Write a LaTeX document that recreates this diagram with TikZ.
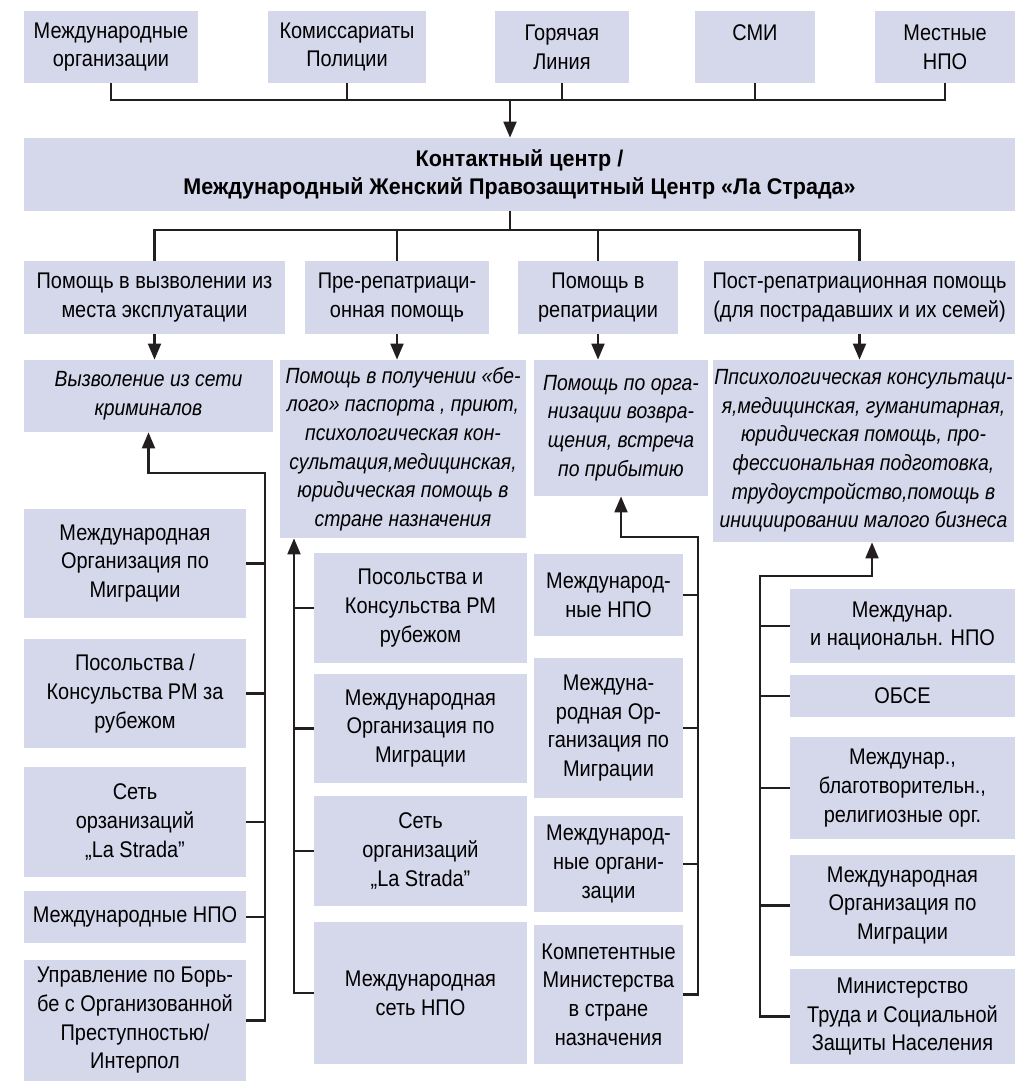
\documentclass[tikz,border=0pt]{standalone}
\usepackage{fontspec}
\setmainfont{Liberation Sans}[FakeStretch=0.88]
\newfontfamily\titlefont{Liberation Sans}[FakeStretch=0.95]
\usetikzlibrary{arrows.meta}
\definecolor{lav}{RGB}{213,215,235}
\definecolor{ink}{RGB}{35,31,32}
\newdimen\px \px=0.75pt

\begin{document}
\begin{tikzpicture}[x=0.75pt, y=-0.75pt,
		box/.style 2 args={fill=lav, inner sep=0pt, align=center, minimum width=#1\px, minimum height=#2\px, font=\fontsize{17}{21.5}\selectfont},
		it/.style={font=\fontsize{16.5}{21.5}\selectfont\itshape},
		line/.style={draw=ink, line width=2pt},
		>={Triangle[length=12pt,width=9.5pt]}]
		\useasboundingbox (0,0) rectangle (1031,1081);

		\node [box={174}{72}] (inter) at (111,47) {Международные\\организации};
		\node [box={158}{72}] (police) at (347,47) {Комиссариаты\\Полиции};
		\node [box={134}{72}] (hotline) at (562,47) {Горячая\\Линия};
		\node [box={120}{72}] (media) at (755,47) {СМИ\\\phantom{Н}};
		\node [box={140}{72}] (ngo) at (945,47) {Местные\\НПО};

		\node [box={991}{73}, font=\fontsize{17}{21.5}\titlefont\bfseries] (centre) at (519.5,174.5)
			{Контактный центр /\\Международный Женский Правозащитный Центр «Ла Страда»};

		\node [box={261}{73}] (resc) at (154.5,297.5) {Помощь в вызволении из\\места эксплуатации};
		\node [box={184}{73}] (prer) at (397,297.5) {Пре-репатриаци-\\онная помощь};
		\node [box={160}{73}] (repa) at (598,297.5) {Помощь в\\репатриации};
		\node [box={311}{73}] (post) at (859.5,297.5) {Пост-репатриационная помощь\\(для пострадавших и их семей)};

		\node [box={249}{72}, it] (rescw) at (148.5,396) {Вызволение из сети\\криминалов};
		\node [box={246}{178}, it] (prerw) at (403,449) {Помощь в получении «бе-\\лого» паспорта , приют,\\психологическая кон-\\сультация,медицинская,\\юридическая помощь в\\стране назначения};
		\node [box={174}{136}, it] (repaw) at (621,428) {Помощь по орга-\\низации возвра-\\щения, встреча\\по прибытию};
		\node [box={301}{182}, it] (postw) at (863.5,451) {Ппсихологическая консультаци-\\я,медицинская, гуманитарная,\\юридическая помощь, про-\\фессиональная подготовка,\\трудоустройство,помощь в\\инициировании малого бизнеса};

		\node [box={222}{109}] (resc1) at (135,563.5) {Международная\\Организация по\\Миграции};
		\node [box={222}{109}] (resc2) at (135,693.5) {Посольства /\\Консульства РМ за\\рубежом};
		\node [box={222}{110}] (resc3) at (135,822) {Сеть\\орзанизаций\\„La Strada”};
		\node [box={222}{52}] (resc4) at (135,917) {Международные НПО};
		\node [box={222}{121}] (resc5) at (135,1020.5) {Управление по Борь-\\бе с Организованной\\Преступностью/\\Интерпол};

		\node [box={213}{110}] (prer1) at (420.5,608) {Посольства и\\Консульства РМ\\рубежом};
		\node [box={213}{109}] (prer2) at (420.5,728.5) {Международная\\Организация по\\Миграции};
		\node [box={213}{110}] (prer3) at (420.5,851) {Сеть\\организаций\\„La Strada”};
		\node [box={213}{142}] (prer4) at (420.5,993) {Международная\\сеть НПО};

		\node [box={149}{82}] (repa1) at (608.5,595) {Международ-\\ные НПО};
		\node [box={149}{140}] (repa2) at (608.5,728) {Междуна-\\родная Ор-\\ганизация по\\Миграции};
		\node [box={149}{96}] (repa3) at (608.5,864) {Международ-\\ные органи-\\зации};
		\node [box={149}{139}] (repa4) at (608.5,994.5) {Компетентные\\Министерства\\в стране\\назначения};

		\node [box={225}{74}] (post1) at (902.5,626) {Междунар.\\и национальн. НПО};
		\node [box={225}{42}] (post2) at (902.5,696) {ОБСЕ};
		\node [box={225}{102}] (post3) at (902.5,788) {Междунар.,\\благотворительн.,\\религиозные орг.};
		\node [box={225}{101}] (post4) at (902.5,905.5) {Международная\\Организация по\\Миграции};
		\node [box={225}{95}] (post5) at (902.5,1016.5) {Министерство\\Труда и Социальной\\Защиты Населения};

		\coordinate (stem) at (510,100);
		\draw [line] (inter.south) |- (stem) -| (ngo.south);
		\foreach \n in {police,hotline,media}
			\draw [line] (\n.south) -- (\n.south |- stem);
		\draw [line,->] (stem) -- (stem |- centre.north);

		\coordinate (hub) at (510,230);
		\draw [line] (stem |- centre.south) -- (hub);
		\draw [line] (resc.north) |- (hub) -| (post.north);
		\foreach \n in {prer,repa}
			\draw [line] (\n.north) -- (\n.north |- hub);
		\foreach \n in {resc,prer,repa,post}
			\draw [line,->] (\n.south) -- (\n.south |- \n w.north);

		\coordinate (rescbend) at (265,473);
		\draw [line,->] (resc5.east) -| (rescbend) -| (rescw.south);
		\foreach \n in {1,...,4}
			\draw [line] (resc\n.east) -- (resc\n.east -| rescbend);

		\coordinate (prerbend) at (294,538);
		\draw [line,->] (prer4.west) -| (prerbend |- prerw.south);
		\foreach \n in {1,...,3}
			\draw [line] (prer\n.west) -- (prer\n.west -| prerbend);

		\coordinate (repabend) at (698,537);
		\draw [line,->] (repa4.east) -| (repabend) -| (repaw.south);
		\foreach \n in {1,...,3}
			\draw [line] (repa\n.east) -- (repa\n.east -| repabend);

		\coordinate (postbend) at (760,576);
		\coordinate (postup) at (872,576);
		\draw [line,->] (post5.west) -| (postbend) -- (postup) -- (postup |- postw.south);
		\foreach \n in {1,...,4}
			\draw [line] (post\n.west) -- (post\n.west -| postbend);
	\end{tikzpicture}
\end{document}
